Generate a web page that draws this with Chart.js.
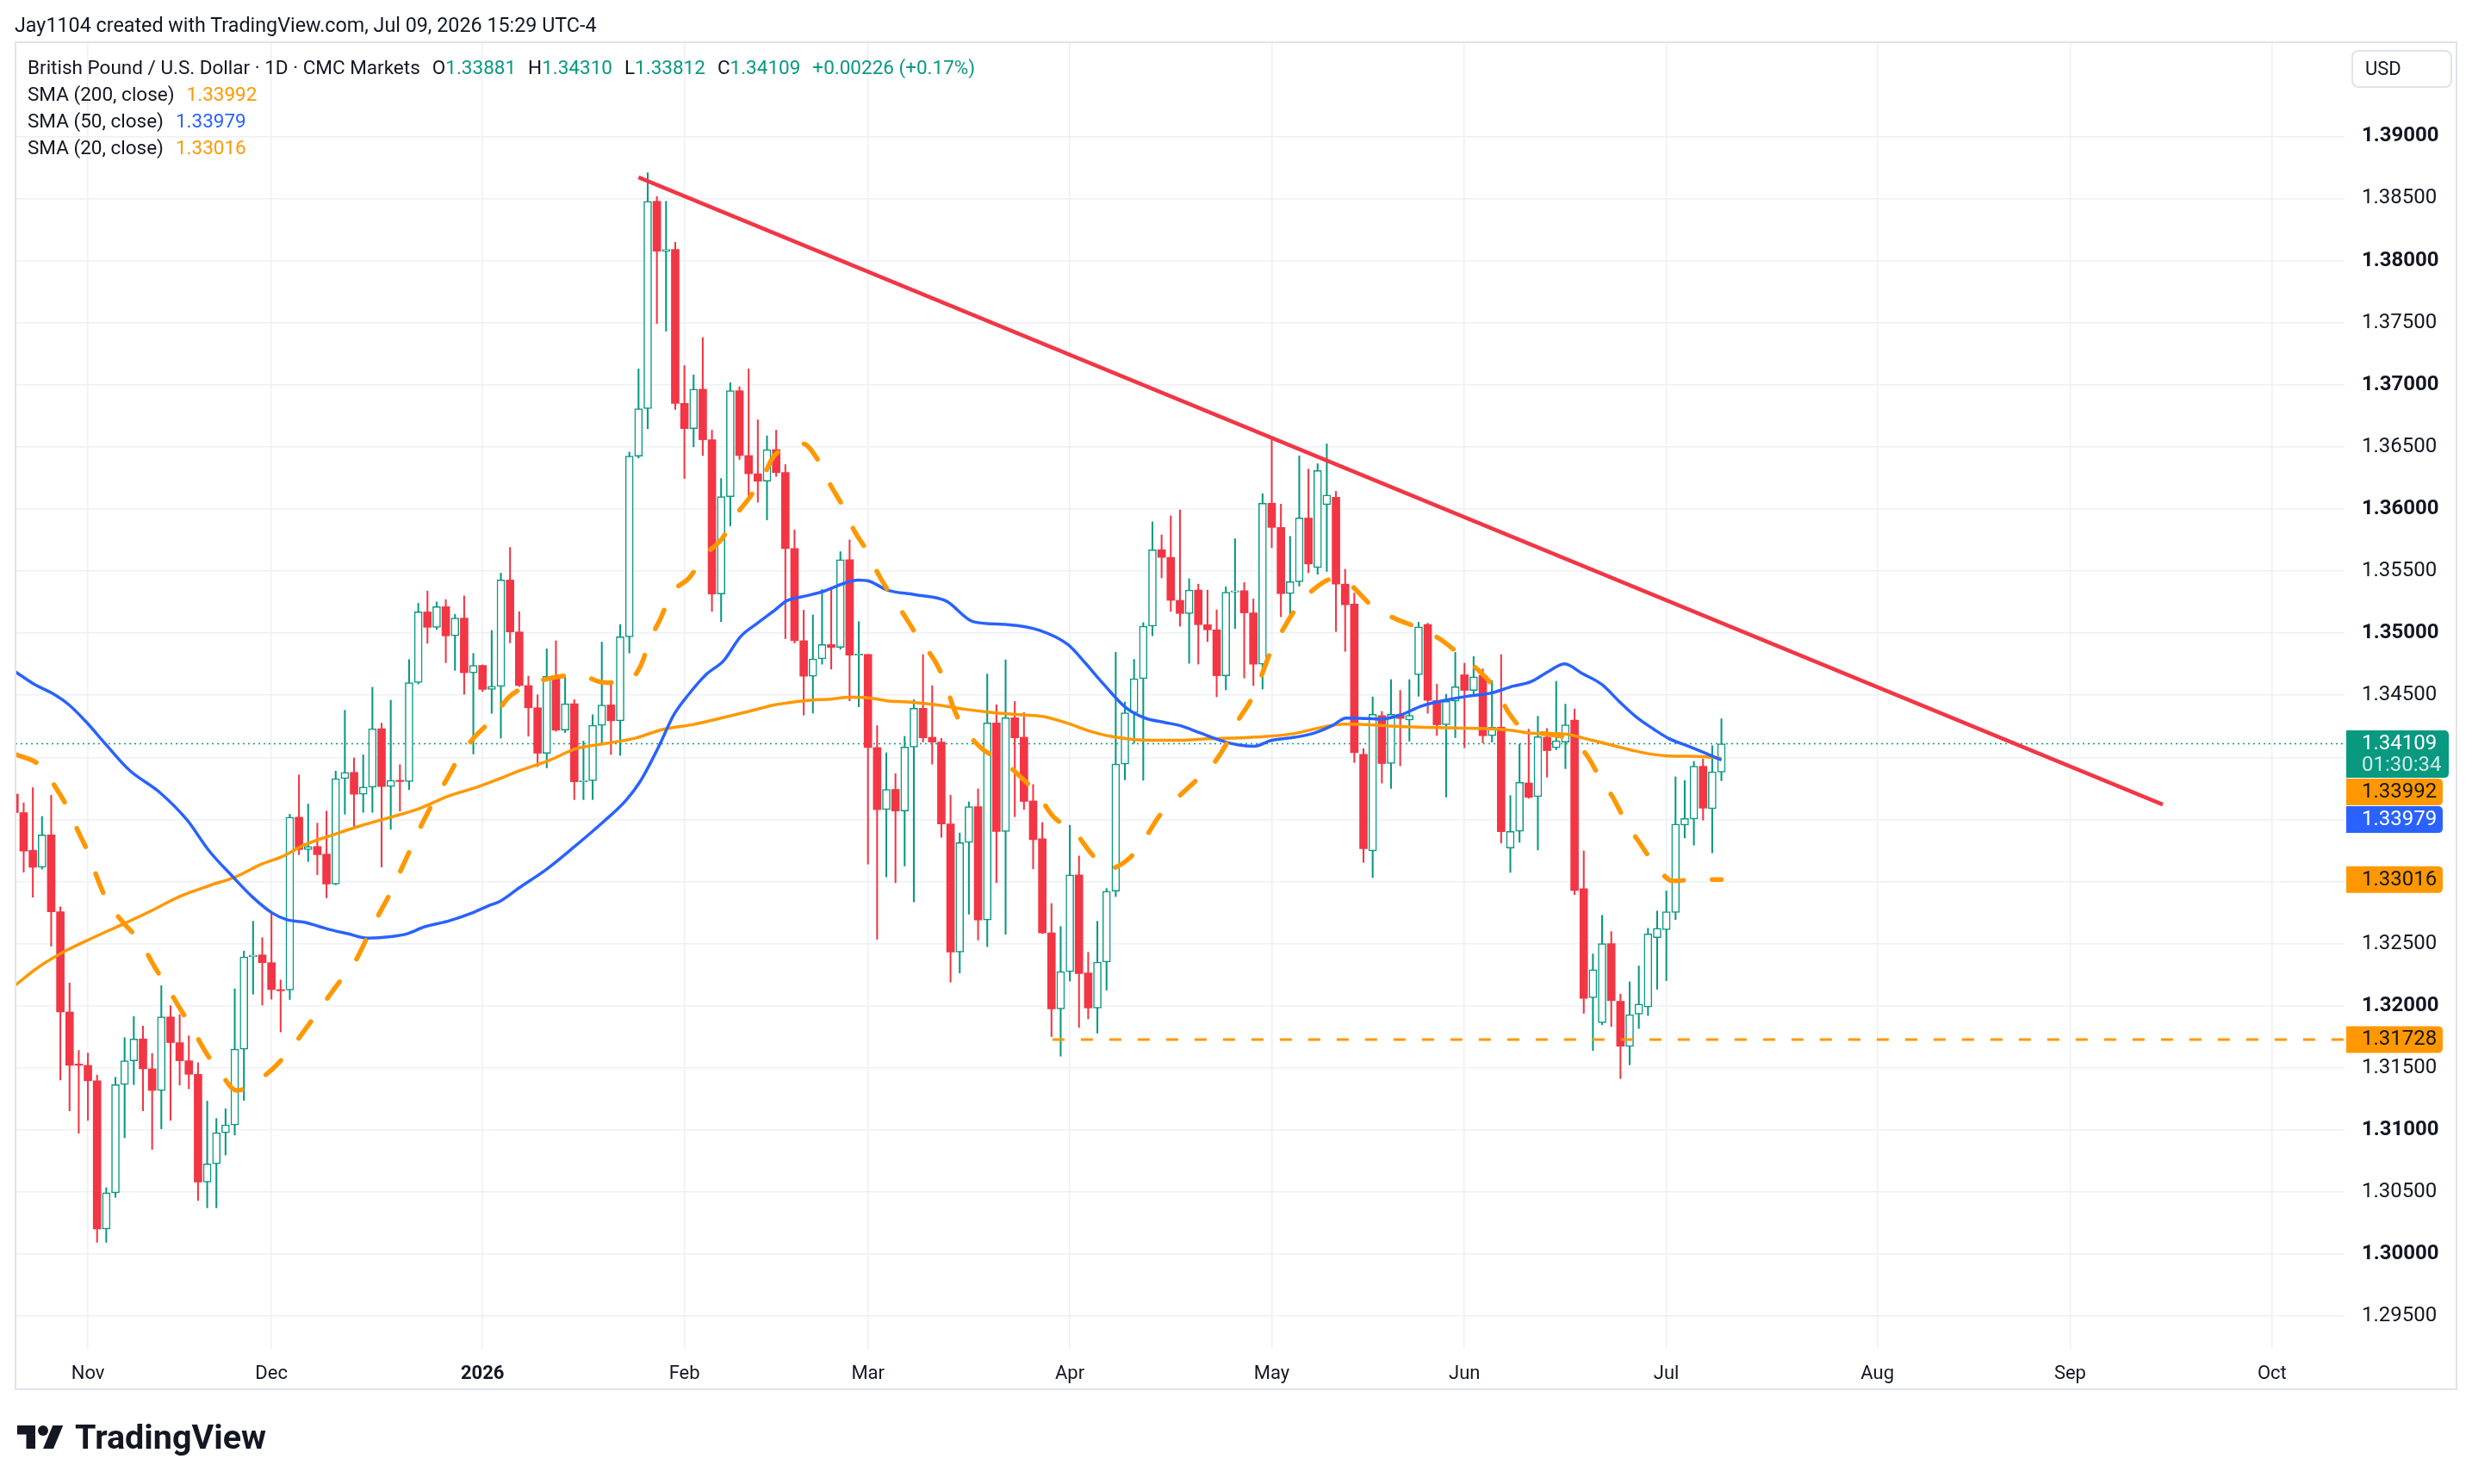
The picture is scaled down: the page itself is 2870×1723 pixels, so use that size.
<!DOCTYPE html>
<html lang="en">
<head>
<meta charset="utf-8">
<title>GBPUSD 1D</title>
<script src="https://cdn.jsdelivr.net/npm/chart.js@4.4.1/dist/chart.umd.min.js"></script>
<style>
  html, body { margin: 0; padding: 0; background: #fff; }
  body { width: 2870px; height: 1723px; position: relative; overflow: hidden;
         font-family: Roboto, "Noto Sans", sans-serif; color: #131722; }
  #chart { position: absolute; left: 0; top: 0; }
  #frame { position: absolute; left: 17px; top: 48px; width: 2836px; height: 1566px;
           border: 2px solid #E0E3EB; box-sizing: border-box; pointer-events: none; }
  #header { position: absolute; left: 17px; top: 18px; font-size: 23.3px; line-height: 23px; white-space: nowrap; }
  #legend { position: absolute; left: 32px; top: 63px; font-size: 22.5px; line-height: 31px; white-space: nowrap; }
  #legend .gap { margin-left: 14px; }
  .up { color: #089981; }
  .down { color: #F23645; }
  .c200 { color: #FF9800; }
  .c50 { color: #2962FF; }
  .c20 { color: #FF9800; }
  #usd { position: absolute; left: 2730px; top: 58px; width: 117px; height: 44px; border: 2px solid #E0E3EB;
         border-radius: 8px; box-sizing: border-box; font-size: 22px; line-height: 40px; padding-left: 14px; }
  #tvicon { position: absolute; left: 20px; top: 1649px; }
  #tvtext { position: absolute; left: 87px; top: 1649px; font-size: 39.5px; line-height: 39px; font-weight: 700; letter-spacing: 0; }
</style>
</head>
<body>
<canvas id="chart" width="2870" height="1723"></canvas>
<div id="frame"></div>
<div id="header">Jay1104 created with TradingView.com, Jul 09, 2026 15:29 UTC-4</div>
<div id="legend">
  <div id="row1"></div>
  <div id="row2"></div>
  <div id="row3"></div>
  <div id="row4"></div>
</div>
<div id="usd">USD</div>
<svg id="tvicon" viewBox="0 0 36 28" width="54" height="42"><path d="M14 22H7V11H0V4h14v18zM28 22h-8l7.5-18h8L28 22z" fill="#131722"/><circle cx="20" cy="8" r="4" fill="#131722"/></svg>
<div id="tvtext">TradingView</div>
<script>
// daily bars, index 0 = Oct 22 2025, last = Jul 09 2026
const opens = [
1.33704,1.33555,1.33251,1.33115,1.33375,1.32756,1.31950,1.31530,1.31520,1.31396,
1.30203,1.30494,1.31365,1.31557,1.31733,1.31492,1.31318,1.31910,1.31703,1.31557,
1.31448,1.30581,1.30727,1.30978,1.31040,1.31650,1.32393,1.32409,1.32347,1.32130,
1.32127,1.33518,1.33258,1.33282,1.33221,1.32980,1.33829,1.33879,1.33703,1.33760,
1.34230,1.33765,1.33815,1.33805,1.34602,1.35171,1.35047,1.35213,1.34978,1.35121,
1.34681,1.34740,1.34547,1.34572,1.35428,1.35010,1.34578,1.34399,1.34033,1.34654,
1.34219,1.34431,1.33804,1.33812,1.34258,1.34422,1.34294,1.34970,1.36425,1.36807,
1.38477,1.38075,1.38090,1.36850,1.36647,1.36964,1.36557,1.35315,1.36099,1.36952,
1.36430,1.36283,1.36223,1.36478,1.36293,1.35681,1.34939,1.34653,1.34793,1.34908,
1.34885,1.35592,1.34822,1.34828,1.34079,1.33580,1.33742,1.33568,1.34083,1.34395,
1.34162,1.34123,1.33464,1.32432,1.33314,1.33603,1.32691,1.34277,1.33402,1.34319,
1.34162,1.33649,1.33344,1.32587,1.31975,1.32275,1.33053,1.32264,1.31982,1.32352,
1.32922,1.33946,1.34359,1.34633,1.35056,1.35672,1.35610,1.35264,1.35158,1.35347,
1.35068,1.35027,1.34657,1.35330,1.35342,1.35163,1.34750,1.36046,1.35851,1.35318,
1.35414,1.35927,1.35529,1.36035,1.36094,1.35395,1.35235,1.34024,1.33247,1.34336,
1.33950,1.34347,1.34301,1.34665,1.35069,1.34458,1.34262,1.34451,1.34665,1.34539,
1.34659,1.34174,1.34243,1.33270,1.33404,1.33794,1.33683,1.34162,1.34077,1.34123,
1.34300,1.32943,1.32064,1.31863,1.32500,1.32036,1.31672,1.31932,1.31990,1.32548,
1.32613,1.32751,1.33455,1.33503,1.33928,1.33586,1.33881
];
const highs = [
1.33760,1.33633,1.33756,1.33524,1.33695,1.32796,1.32183,1.31640,1.31619,1.31442,
1.30535,1.31424,1.31743,1.31913,1.31836,1.31616,1.32161,1.32000,1.31929,1.31758,
1.31541,1.31232,1.31092,1.31170,1.32136,1.32440,1.32681,1.32548,1.32743,1.32207,
1.33542,1.33859,1.33624,1.33470,1.33567,1.33889,1.34379,1.33995,1.34020,1.34564,
1.34275,1.34460,1.33941,1.34787,1.35240,1.35339,1.35252,1.35270,1.35151,1.35300,
1.34837,1.34745,1.35022,1.35484,1.35690,1.35173,1.34654,1.34503,1.34873,1.34938,
1.34644,1.34464,1.34131,1.34343,1.34928,1.34595,1.35069,1.36458,1.37127,1.38706,
1.38516,1.38477,1.38147,1.37154,1.37079,1.37380,1.36634,1.36245,1.37016,1.36984,
1.37127,1.36717,1.36589,1.36634,1.36357,1.35831,1.35185,1.35146,1.35353,1.35369,
1.35656,1.35751,1.35092,1.34830,1.34255,1.34037,1.33869,1.34169,1.34464,1.34827,
1.34577,1.34153,1.33695,1.33391,1.33642,1.33746,1.34670,1.34423,1.34785,1.34450,
1.34360,1.33781,1.33476,1.32823,1.32638,1.33453,1.33206,1.32430,1.32680,1.32944,
1.34846,1.34445,1.34789,1.35085,1.35896,1.35791,1.35944,1.35992,1.35438,1.35395,
1.35347,1.35187,1.35373,1.35760,1.35407,1.35275,1.36123,1.36560,1.36039,1.35779,
1.36428,1.36321,1.36364,1.36524,1.36142,1.35514,1.35323,1.34070,1.34486,1.34370,
1.34626,1.34539,1.34626,1.35088,1.35080,1.34589,1.34509,1.34845,1.34758,1.34811,
1.34712,1.34619,1.34827,1.33692,1.34105,1.34227,1.34331,1.34232,1.34612,1.34428,
1.34389,1.33247,1.32417,1.32728,1.32597,1.32094,1.32193,1.32320,1.32624,1.32763,
1.32924,1.33843,1.33813,1.33967,1.33987,1.34094,1.34310
];
const lows = [
1.33500,1.33075,1.32874,1.33100,1.32480,1.31402,1.31154,1.30974,1.31077,1.30095,
1.30095,1.30457,1.30937,1.31365,1.31154,1.30844,1.31009,1.31077,1.31362,1.31331,
1.30432,1.30373,1.30373,1.30798,1.30959,1.31238,1.32093,1.32006,1.32053,1.31789,
1.32050,1.33216,1.33161,1.33055,1.32869,1.32973,1.33542,1.33426,1.33557,1.33557,
1.33117,1.33419,1.33567,1.33740,1.34590,1.34918,1.35030,1.34762,1.34700,1.34508,
1.34027,1.34530,1.34354,1.34154,1.34922,1.34570,1.34170,1.33925,1.33915,1.34210,
1.34200,1.33660,1.33660,1.33660,1.34111,1.34023,1.34016,1.34840,1.36410,1.36647,
1.37493,1.37431,1.36801,1.36245,1.36500,1.36430,1.35175,1.35092,1.35863,1.36398,
1.36102,1.36054,1.35911,1.36261,1.34955,1.34920,1.34340,1.34356,1.34750,1.34710,
1.34870,1.34455,1.34407,1.33140,1.32535,1.33037,1.32991,1.33125,1.32836,1.34123,
1.33945,1.33356,1.32190,1.32264,1.32737,1.32529,1.32476,1.32991,1.32576,1.33522,
1.33580,1.33102,1.32580,1.31751,1.31594,1.32199,1.31825,1.31894,1.31779,1.32125,
1.32880,1.33819,1.34113,1.33815,1.34979,1.35445,1.35175,1.35056,1.34757,1.34750,
1.34932,1.34488,1.34543,1.35037,1.34638,1.34578,1.34550,1.35688,1.35132,1.35151,
1.35378,1.35486,1.35474,1.35497,1.35013,1.34853,1.33958,1.33154,1.33032,1.33793,
1.33750,1.33932,1.34130,1.34492,1.34354,1.34176,1.33680,1.34158,1.34077,1.34511,
1.34116,1.34123,1.33309,1.33074,1.33316,1.33670,1.33254,1.33840,1.34061,1.33909,
1.32894,1.31939,1.31639,1.31847,1.31833,1.31413,1.31524,1.31817,1.31921,1.32133,
1.32202,1.32694,1.33351,1.33293,1.33494,1.33231,1.33812
];
const closes = [
1.33555,1.33245,1.33115,1.33375,1.32756,1.31950,1.31520,1.31520,1.31396,1.30203,
1.30494,1.31365,1.31557,1.31733,1.31492,1.31318,1.31910,1.31703,1.31557,1.31448,
1.30581,1.30727,1.30978,1.31040,1.31650,1.32393,1.32409,1.32347,1.32130,1.32120,
1.33518,1.33258,1.33282,1.33216,1.32980,1.33829,1.33879,1.33703,1.33760,1.34230,
1.33765,1.33815,1.33805,1.34602,1.35171,1.35047,1.35213,1.34978,1.35121,1.34681,
1.34740,1.34547,1.34572,1.35428,1.35010,1.34578,1.34399,1.34033,1.34654,1.34219,
1.34431,1.33804,1.33812,1.34258,1.34422,1.34294,1.34970,1.36425,1.36807,1.38477,
1.38075,1.38090,1.36850,1.36647,1.36964,1.36557,1.35315,1.36099,1.36952,1.36430,
1.36283,1.36223,1.36478,1.36293,1.35681,1.34939,1.34653,1.34793,1.34908,1.34885,
1.35592,1.34822,1.34828,1.34079,1.33579,1.33742,1.33568,1.34083,1.34395,1.34157,
1.34123,1.33464,1.32432,1.33314,1.33603,1.32691,1.34277,1.33402,1.34319,1.34157,
1.33645,1.33337,1.32587,1.31975,1.32275,1.33053,1.32259,1.31982,1.32352,1.32922,
1.33946,1.34359,1.34633,1.35056,1.35672,1.35610,1.35264,1.35158,1.35347,1.35068,
1.35027,1.34657,1.35330,1.35342,1.35163,1.34750,1.36046,1.35851,1.35318,1.35414,
1.35927,1.35557,1.36309,1.36111,1.35395,1.35228,1.34037,1.33265,1.34347,1.33950,
1.34347,1.34313,1.34338,1.35051,1.34458,1.34262,1.34451,1.34569,1.34539,1.34649,
1.34174,1.34243,1.33401,1.33404,1.33798,1.33678,1.34167,1.34054,1.34133,1.34262,
1.32928,1.32059,1.32290,1.32500,1.32041,1.31674,1.31928,1.32013,1.32578,1.32624,
1.32756,1.33462,1.33508,1.33928,1.33591,1.33883,1.34109
];

// moving averages (bar index, value)
const sma200Idx = [0.1,2.5,5.6,8.7,11.9,15,18.1,21.3,24.1,26.9,29.2,31.6,34.7,37.8,41,44.1,47.2,50.4,52.9,55,58.2,61.3,64.4,67.6,70.7,74,76.6,79.8,82.9,86,89.2,91,93.2,95.1,97.3,100.4,103.5,106.7,109.8,112,114.8,117,119.5,123.9,127,130.1,133.3,136.4,139.5,142.6,144.8,146.7,150.5,155.2,159.9,163.3,165.2,167.1,169.6,171.1,173.9,177.1,179.9,182.4,184.3,186];
const sma200Val = [1.32165,1.32305,1.32443,1.32553,1.3266,1.32768,1.32883,1.32969,1.33038,1.3314,1.33202,1.33295,1.33376,1.33451,1.33518,1.33587,1.33686,1.3376,1.33829,1.33892,1.33974,1.34072,1.34111,1.34154,1.34226,1.34265,1.34309,1.34366,1.34423,1.34455,1.34471,1.34484,1.34478,1.34455,1.34446,1.34423,1.34388,1.3436,1.34342,1.3433,1.34273,1.34215,1.34169,1.34137,1.34137,1.34149,1.34156,1.34168,1.34192,1.34244,1.34268,1.34265,1.3425,1.34239,1.34232,1.34216,1.34195,1.34193,1.34181,1.34152,1.34101,1.34043,1.34013,1.34009,1.34004,1.33992];

const sma50Idx = [0.1,2.2,4.05,5.9,7.8,10,12.5,15.9,18.8,21.2,23.8,25.9,28.1,29.7,31.6,34.1,36.3,38.5,41,42.8,44.7,47.2,49.7,51.6,52.9,55,58,61,64,66.6,68.2,70.1,71.9,73.5,75.4,77.3,79.1,81,82.9,84.1,86,88.2,90.4,91.9,93.2,95.1,98.1,101.5,104.5,108.2,111.7,114.8,116.7,118.6,121.1,123.2,125.4,127,129.2,131.4,133.3,135,137,139.5,141.7,143.6,145.1,146.6,148.9,151.1,153.3,155.8,158.3,160.8,163.3,165.2,167.1,168.9,170.8,173,174.9,176.8,178.6,180.2,182.4,184.3,186];
const sma50Val = [1.34689,1.34586,1.34518,1.34425,1.34286,1.341,1.33898,1.33713,1.33496,1.33248,1.33038,1.32878,1.32746,1.32692,1.32672,1.32618,1.3258,1.32544,1.32556,1.3258,1.32636,1.3268,1.32742,1.32804,1.32841,1.3295,1.331,1.3328,1.3347,1.33651,1.33808,1.34071,1.34349,1.3451,1.34669,1.3478,1.34971,1.35083,1.35188,1.35258,1.35296,1.35337,1.35401,1.35427,1.35417,1.35347,1.3531,1.3526,1.35092,1.35069,1.35023,1.34908,1.34758,1.34596,1.344,1.34316,1.3428,1.34256,1.34197,1.34137,1.34101,1.34089,1.34137,1.34161,1.34197,1.34256,1.34316,1.34315,1.34308,1.34343,1.34412,1.34458,1.34492,1.34516,1.34573,1.34608,1.34689,1.34753,1.34677,1.34585,1.34447,1.3432,1.34228,1.34154,1.34089,1.34032,1.33979];

const sma20Idx = [0.3,2.8,4.5,5.8,7,8.1,9.1,10.1,12,13.7,15.2,16.5,18,19.4,20.9,22.4,24.2,26.6,28.8,35.5,37.1,38.5,39.6,41,42.1,43.3,44.4,45.8,47.1,48.5,50.1,52.2,53.8,56.3,58.2,61.5,64.1,66.6,68.2,69.3,70.4,71.6,73.5,75.4,77.1,78.7,80.2,81.8,82.7,85.9,87.6,89,90.2,91.5,92.8,94.2,95.1,97.3,98.5,100.3,101.4,102.4,103.5,105.5,107.6,110.4,111.5,113.3,115.4,117.3,119,121.4,123.1,124.7,126.4,128.6,130.5,132.1,133.2,134.8,135.8,136.9,138.1,139.7,141.4,143.7,145.1,146.1,148.1,150.5,153.1,155.3,157.7,159.7,161.6,162.8,164.9,166.8,169.9,171.3,172.8,174.2,175.6,177.1,178.8,180.7,183.5,186];
const sma20Val = [1.3402,1.33933,1.33756,1.33592,1.33394,1.3322,1.33013,1.32843,1.32657,1.32517,1.32322,1.32167,1.31981,1.31814,1.31619,1.31464,1.31318,1.31402,1.31541,1.32201,1.32354,1.3256,1.32721,1.32914,1.33092,1.33285,1.33463,1.33661,1.33822,1.34008,1.34161,1.34317,1.3448,1.34588,1.34634,1.34664,1.34604,1.34601,1.34732,1.34954,1.35118,1.3532,1.35444,1.3564,1.35761,1.35959,1.36102,1.36293,1.3642,1.36525,1.36388,1.36181,1.36029,1.35825,1.35672,1.35465,1.35353,1.35104,1.34961,1.34774,1.34607,1.34383,1.34231,1.34065,1.33972,1.33788,1.337,1.33515,1.33411,1.33229,1.331,1.33182,1.33337,1.33523,1.33652,1.33803,1.33934,1.34113,1.3428,1.34471,1.34643,1.34853,1.35013,1.35204,1.35342,1.35438,1.35426,1.35354,1.35208,1.35115,1.35039,1.34954,1.34815,1.34689,1.34527,1.34361,1.34204,1.3419,1.34124,1.3402,1.33831,1.33674,1.33478,1.3331,1.33132,1.33005,1.33017,1.33016];

// drawings
const trendIdx = [68, 234.1];
const trendVal = [1.3867, 1.3362];
const supportIdx = [113.1];
const supportVal = [1.31728];

// axes
const monthIdx = [8, 28, 51, 73, 93, 115, 137, 158, 180, 203, 224, 246];
const monthLabels = ['Nov', 'Dec', '2026', 'Feb', 'Mar', 'Apr', 'May', 'Jun', 'Jul', 'Aug', 'Sep', 'Oct'];
const priceTicks = [1.295, 1.30, 1.305, 1.31, 1.315, 1.32, 1.325, 1.33, 1.335, 1.34, 1.345, 1.35, 1.355, 1.36, 1.365, 1.37, 1.375, 1.38, 1.385, 1.39];
const xMin = 0.11, xMax = 253.9;
const yMin = 1.29238, yMax = 1.39758;

const symbolTitle = 'British Pound / U.S. Dollar · 1D · CMC Markets';
const countdown = '01:30:34';

const UP = '#089981', DOWN = '#F23645', ORANGE = '#FF9800', BLUE = '#2962FF';
const FONT = 'Roboto, "Noto Sans", sans-serif';

const n = closes.length - 1;
const isUp = closes.map((c, i) => c >= opens[i]);
const fmt = v => v.toFixed(5);

// legend text
const chg = closes[n] - closes[n - 1];
const cls = chg >= 0 ? 'up' : 'down';
const sign = chg >= 0 ? '+' : '';
document.getElementById('row1').innerHTML =
  `<span>${symbolTitle}</span>` +
  `<span class="gap">O<span class="${cls}">${fmt(opens[n])}</span></span>` +
  `<span class="gap">H<span class="${cls}">${fmt(highs[n])}</span></span>` +
  `<span class="gap">L<span class="${cls}">${fmt(lows[n])}</span></span>` +
  `<span class="gap">C<span class="${cls}">${fmt(closes[n])}</span></span>` +
  `<span class="gap ${cls}">${sign}${fmt(chg)} (${sign}${(chg / closes[n - 1] * 100).toFixed(2)}%)</span>`;
document.getElementById('row2').innerHTML = `SMA (200, close)<span class="gap c200">${fmt(sma200Val[sma200Val.length - 1])}</span>`;
document.getElementById('row3').innerHTML = `SMA (50, close)<span class="gap c50">${fmt(sma50Val[sma50Val.length - 1])}</span>`;
document.getElementById('row4').innerHTML = `SMA (20, close)<span class="gap c20">${fmt(sma20Val[sma20Val.length - 1])}</span>`;

const toPts = (xs, ys) => xs.map((x, i) => ({ x: x, y: ys[i] }));

// price labels on the right scale
const tags = [
  { v: closes[n], bg: UP, fg: '#FFFFFF', sub: countdown },
  { v: sma200Val[sma200Val.length - 1], bg: ORANGE, fg: '#131722' },
  { v: sma50Val[sma50Val.length - 1], bg: BLUE, fg: '#FFFFFF' },
  { v: sma20Val[sma20Val.length - 1], bg: ORANGE, fg: '#131722' },
  { v: supportVal[0], bg: ORANGE, fg: '#131722' }
];

const priceTags = {
  id: 'priceTags',
  afterDraw(chart) {
    const ctx = chart.ctx;
    const ys = chart.scales.y;
    const x0 = chart.chartArea.right + 2;
    const items = tags.map(t => Object.assign({ py: ys.getPixelForValue(t.v) }, t)).sort((a, b) => a.py - b.py);
    let prevBottom = -1e9;
    ctx.save();
    ctx.textBaseline = 'middle';
    ctx.textAlign = 'left';
    ctx.font = '24px ' + FONT;
    items.forEach(t => {
      const h = t.sub ? 55 : 31;
      const w = t.sub ? 119 : 112;
      let top = t.py - 15.5;
      if (top < prevBottom + 1) top = prevBottom + 1;
      ctx.fillStyle = t.bg;
      ctx.beginPath();
      ctx.roundRect(x0, top, w, h, [0, 5, 5, 0]);
      ctx.fill();
      ctx.fillStyle = t.fg;
      ctx.fillText(fmt(t.v), x0 + 18, top + 16);
      if (t.sub) {
        ctx.globalAlpha = 0.8;
        ctx.fillText(t.sub, x0 + 18, top + 41);
        ctx.globalAlpha = 1;
      }
      prevBottom = top + h;
    });
    ctx.restore();
  }
};

const wickData = lows.map((l, i) => ({ x: i, y: [l, highs[i]] }));
const bodyData = opens.map((o, i) => ({ x: i, y: [o, closes[i]] }));

new Chart(document.getElementById('chart'), {
  type: 'bar',
  data: {
    datasets: [
      {
        type: 'line', label: 'Trend', order: 0,
        data: toPts(trendIdx, trendVal),
        borderColor: DOWN, borderWidth: 4.5, pointRadius: 0, fill: false, clip: 0
      },
      {
        type: 'line', label: 'SMA 20', order: 1,
        data: toPts(sma20Idx, sma20Val),
        borderColor: ORANGE, borderWidth: 5.5, borderDash: [24, 33], borderCapStyle: 'round',
        pointRadius: 0, fill: false, cubicInterpolationMode: 'monotone', clip: 0
      },
      {
        type: 'line', label: 'SMA 50', order: 2,
        data: toPts(sma50Idx, sma50Val),
        borderColor: BLUE, borderWidth: 3.5, pointRadius: 0, fill: false,
        cubicInterpolationMode: 'monotone', clip: 0
      },
      {
        type: 'line', label: 'SMA 200', order: 3,
        data: toPts(sma200Idx, sma200Val),
        borderColor: ORANGE, borderWidth: 3.5, pointRadius: 0, fill: false,
        cubicInterpolationMode: 'monotone', clip: 0
      },
      {
        type: 'line', label: 'Support', order: 4,
        data: [{ x: supportIdx[0], y: supportVal[0] }, { x: xMax, y: supportVal[0] }],
        borderColor: ORANGE, borderWidth: 3, borderDash: [14, 19], pointRadius: 0, fill: false, clip: 0
      },
      {
        label: 'Bodies', order: 5,
        data: bodyData,
        grouped: false, barThickness: 9, minBarLength: 1.5,
        backgroundColor: isUp.map(u => u ? '#FFFFFF' : DOWN),
        borderColor: isUp.map(u => u ? UP : DOWN),
        borderWidth: isUp.map(u => u ? 1.5 : 0),
        borderSkipped: false, clip: 0
      },
      {
        label: 'Wicks', order: 6,
        data: wickData,
        grouped: false, barThickness: 1.4,
        backgroundColor: isUp.map(u => u ? UP : DOWN),
        borderWidth: 0, clip: 0
      },
      {
        type: 'line', label: 'Last', order: 7,
        data: [{ x: xMin, y: closes[n] }, { x: xMax, y: closes[n] }],
        borderColor: UP, borderWidth: 1.5, borderDash: [2, 4], pointRadius: 0, fill: false, clip: 0
      }
    ]
  },
  options: {
    responsive: false,
    animation: false,
    devicePixelRatio: 1,
    layout: { padding: { left: 18, top: 49, right: 18, bottom: 110 } },
    plugins: { legend: { display: false }, tooltip: { enabled: false } },
    scales: {
      x: {
        type: 'linear', min: xMin, max: xMax, offset: false,
        grid: { color: '#EEF0F4', lineWidth: 1.5, drawTicks: false, offset: false },
        border: { display: false },
        afterBuildTicks: s => { s.ticks = monthIdx.map(v => ({ value: v })); },
        afterFit: s => { s.height = 47; },
        ticks: {
          autoSkip: false, maxRotation: 0, padding: 16, color: '#131722',
          font: c => ({ family: FONT, size: 22, weight: monthLabels[c.index] === '2026' ? '700' : '400' }),
          callback: (v, i) => monthLabels[i]
        }
      },
      y: {
        position: 'right', min: yMin, max: yMax, beginAtZero: false,
        grid: { color: '#EEF0F4', lineWidth: 1.5, drawTicks: false },
        border: { display: false },
        afterBuildTicks: s => { s.ticks = priceTicks.map(v => ({ value: v })); },
        afterFit: s => { s.width = 130; },
        ticks: {
          padding: 20, color: '#131722',
          font: c => {
            const v = c.tick ? c.tick.value : 0;
            const major = Math.abs(v * 100 - Math.round(v * 100)) < 1e-6;
            return { family: FONT, size: 24, weight: major ? '700' : '400' };
          },
          callback: v => v.toFixed(5)
        }
      }
    }
  },
  plugins: [priceTags]
});
</script>
</body>
</html>
